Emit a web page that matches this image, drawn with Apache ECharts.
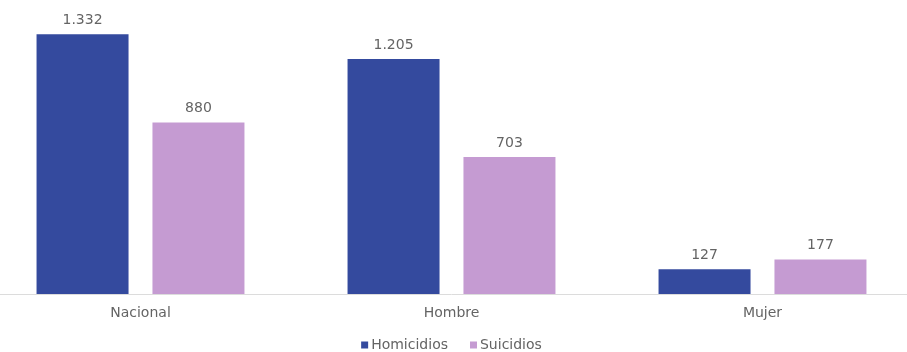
<!DOCTYPE html>
<html>
<head>
<meta charset="utf-8">
<script src="https://cdn.jsdelivr.net/npm/echarts@6/dist/echarts.min.js"></script>
<style>
  html, body { margin: 0; padding: 0; background: #ffffff; overflow: hidden; }
  #wrap { position: relative; width: 907px; height: 352px; overflow: hidden; }
  /* plot spans slightly wider than the page so the outer bands bleed past the edges */
  #chart { position: absolute; left: -15px; top: 0; width: 933px; height: 352px; }
</style>
</head>
<body>
<div id="wrap"><div id="chart"></div></div>
<script>
// Categories and series values
const categories = ['Nacional', 'Hombre', 'Mujer'];
const homicidios = [1332, 1205, 127];
const suicidios = [880, 703, 177];
const seriesNames = ['Homicidios', 'Suicidios'];

const FONT = 'DejaVu Sans';
const TEXT_COLOR = '#646464';

// Thousands separator with a dot (es-CO style)
function fmt(v) {
  return String(v).replace(/\B(?=(\d{3})+(?!\d))/g, '.');
}

const chart = echarts.init(document.getElementById('chart'), null, { renderer: 'canvas' });

const labelCfg = {
  show: true,
  position: 'top',
  distance: 7,
  color: TEXT_COLOR,
  fontFamily: FONT,
  fontSize: 14,
  formatter: p => fmt(p.value)
};

chart.setOption({
  animation: false,
  backgroundColor: '#ffffff',
  grid: { left: 0, right: 0, top: 21, bottom: 58, containLabel: false },
  legend: {
    top: 333,
    left: 'center',
    itemWidth: 7,
    itemHeight: 7,
    itemGap: 22,
    icon: 'rect',
    textStyle: { color: TEXT_COLOR, fontFamily: FONT, fontSize: 14, padding: [0, 0, 0, -2] },
    data: seriesNames
  },
  xAxis: {
    type: 'category',
    data: categories,
    axisLine: { show: true, lineStyle: { color: '#dcdcdc', width: 1 } },
    axisTick: { show: false },
    axisLabel: { color: TEXT_COLOR, fontFamily: FONT, fontSize: 14, margin: 12 }
  },
  yAxis: {
    type: 'value',
    min: 0,
    max: 1400,
    show: false,
    splitLine: { show: false }
  },
  series: [
    {
      name: seriesNames[0],
      type: 'bar',
      data: homicidios,
      barWidth: 92,
      barGap: '26%',
      itemStyle: { color: '#344a9e' },
      label: labelCfg
    },
    {
      name: seriesNames[1],
      type: 'bar',
      data: suicidios,
      barWidth: 92,
      barGap: '26%',
      itemStyle: { color: '#c59bd2' },
      label: labelCfg
    }
  ]
});
</script>
</body>
</html>
